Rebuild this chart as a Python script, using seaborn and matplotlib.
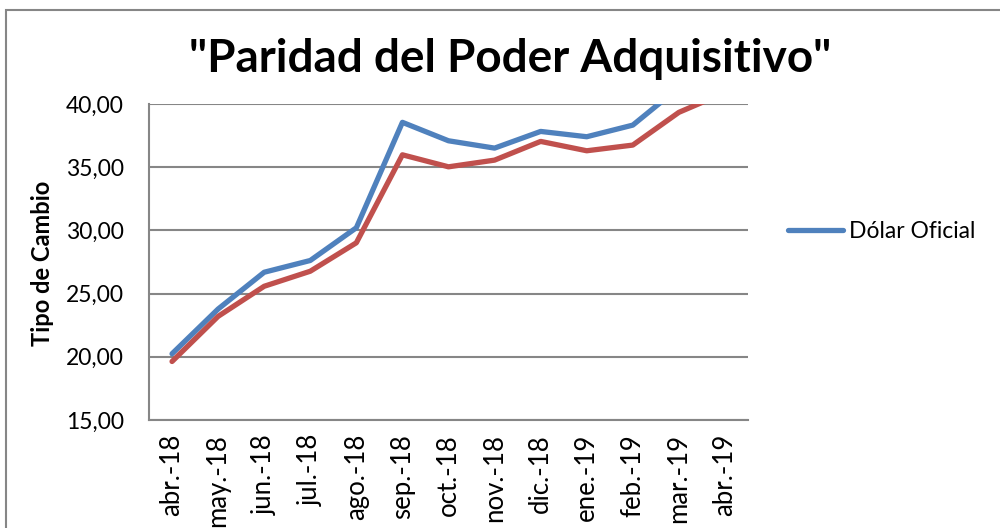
import matplotlib
matplotlib.use("Agg")
import matplotlib.pyplot as plt
import seaborn as sns
import pandas as pd
from matplotlib.lines import Line2D
from matplotlib.patches import Rectangle
from matplotlib.ticker import FuncFormatter

meses = ["abr.-18", "may.-18", "jun.-18", "jul.-18", "ago.-18", "sep.-18", "oct.-18",
         "nov.-18", "dic.-18", "ene.-19", "feb.-19", "mar.-19", "abr.-19"]
dolar_oficial = [20.24, 23.78, 26.69, 27.62, 30.21, 38.55, 37.09, 36.51, 37.83, 37.41, 38.33, 41.3, 43.5]
ppa = [19.63, 23.20, 25.58, 26.77, 29.02, 35.98, 35.03, 35.56, 37.04, 36.30, 36.75, 39.34, 40.9]

titulo = '"Paridad del Poder Adquisitivo"'
etiqueta_y = "Tipo de Cambio"
leyenda = "Dólar Oficial"

sns.set_theme(style="white")
plt.rcParams['font.family'] = ['Lato', 'DejaVu Sans']
plt.rcParams['text.color'] = 'black'
plt.rcParams['axes.labelcolor'] = 'black'

df = pd.DataFrame({
    "mes": meses * 2,
    "valor": dolar_oficial + ppa,
    "serie": ["Dólar Oficial"] * len(meses) + ["PPA"] * len(meses),
})

fig = plt.figure(figsize=(10, 5.28), dpi=100)
ax = fig.add_axes([0.149, 1 - 420 / 528, 0.599, (420 - 104) / 528])

palette = {"Dólar Oficial": "#4F81BD", "PPA": "#C0504D"}
sns.lineplot(data=df, x="mes", y="valor", hue="serie", palette=palette,
             linewidth=3.8, ax=ax, legend=False, sort=False)

ax.set_xlim(-0.5, len(meses) - 0.5)
ax.set_ylim(15, 40)
ax.set_yticks([15, 20, 25, 30, 35, 40])
ax.yaxis.set_major_formatter(FuncFormatter(lambda v, p: f"{v:.2f}".replace(".", ",")))
ax.grid(axis="y", color="#868686", linewidth=1.5)
ax.grid(axis="x", visible=False)
for s in ["top", "right"]:
    ax.spines[s].set_visible(False)
for s in ["left", "bottom"]:
    ax.spines[s].set_color("#868686")
    ax.spines[s].set_linewidth(1.5)
ax.tick_params(axis="both", length=0, colors="black")
ax.tick_params(axis="y", pad=18, labelsize=16.5)
ax.tick_params(axis="x", rotation=90, pad=10, labelsize=18.5)
ax.set_xlabel("")
ax.set_ylabel(etiqueta_y, fontsize=17, fontweight="bold", color="black")
ax.yaxis.set_label_coords((54 - 149) / 599, (420 - 263) / 316)

fig.text(0.51, 1 - 72 / 528, titulo, ha="center", va="baseline", fontsize=33,
         fontweight="bold", color="black")

handle = Line2D([0], [0], color="#4F81BD", linewidth=3.8, solid_capstyle="round")
leg = fig.legend([handle], [leyenda], loc="center left", bbox_to_anchor=(0.788, 1 - 232 / 528),
                 frameon=False, fontsize=16.5, handlelength=2.4, handletextpad=0.25,
                 borderpad=0, borderaxespad=0, labelcolor="black")

fig.patches.append(Rectangle((0.006, -0.01), 1.0, 1 - 0.008, transform=fig.transFigure,
                             fill=False, edgecolor="#868686", linewidth=1.5))

fig.savefig("out.png", dpi=100)
